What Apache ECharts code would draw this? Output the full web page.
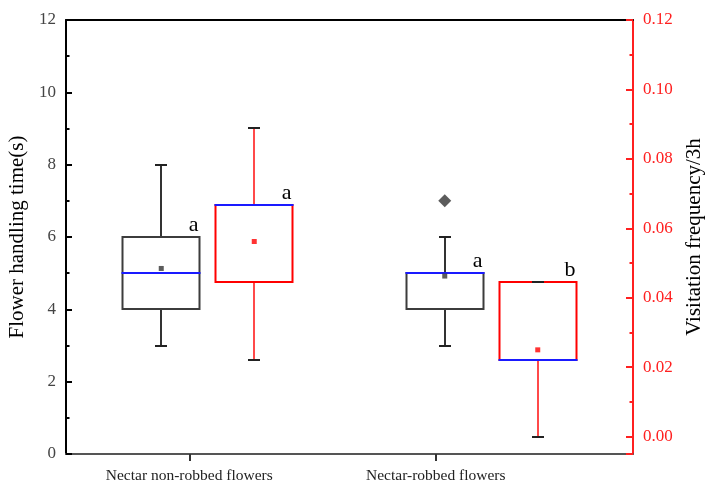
<!DOCTYPE html>
<html><head><meta charset="utf-8">
<script src="https://cdn.jsdelivr.net/npm/echarts@6/dist/echarts.min.js"></script>
<style>html,body{margin:0;padding:0;background:#fff}#c{width:705px;height:486px}</style>
</head><body><div id="c"></div>
<script>
// ---- data ----
const categories = ['Nectar non-robbed flowers', 'Nectar-robbed flowers'];
// box statistics: [min, Q1, median, Q3, max]
const handlingStats = [[3, 4, 5, 6, 8], [3, 4, 5, 5, 6]];
const handlingMeans = [5.13, 4.92];
const handlingOutliers = [[], [7]];
const handlingLetters = ['a', 'a'];
const visitStats = [[0.0222, 0.0444, 0.0667, 0.0667, 0.0889], [0, 0.0222, 0.0222, 0.0444, 0.0444]];
const visitMeans = [0.0562, 0.025];
const visitLetters = ['a', 'b'];
const leftAxisTicks = [0, 2, 4, 6, 8, 10, 12];
const rightAxisTicks = [0, 0.02, 0.04, 0.06, 0.08, 0.10, 0.12];

// ---- layout helpers ----
const SERIF = '"Liberation Serif", "Times New Roman", serif';
const BOX_HALF = 38.5;
const CAP_HALF = 6;
const OFFSET = 46.5;
const labelSlots = Array.from({length: 24}, () => '');
labelSlots[5] = categories[0];
labelSlots[15] = categories[1];

function boxRenderer(offset, boxColor, whiskerColor, letters) {
  return function (params, api) {
    const i = api.value(0);
    const y = k => Math.round(api.coord([i, api.value(k)])[1]);
    const yMin = y(1), yQ1 = y(2), yMed = y(3), yQ3 = y(4), yMax = y(5);
    const cx = Math.round(api.coord([i, api.value(3)])[0] + offset);
    const lw = 2;
    const ch = [];
    if (yMax < yQ3) ch.push({type: 'line', shape: {x1: cx, y1: yQ3, x2: cx, y2: yMax}, style: {stroke: whiskerColor, lineWidth: lw}});
    if (yMin > yQ1) ch.push({type: 'line', shape: {x1: cx, y1: yQ1, x2: cx, y2: yMin}, style: {stroke: whiskerColor, lineWidth: lw}});
    ch.push({type: 'rect', shape: {x: cx - BOX_HALF, y: yQ3, width: BOX_HALF * 2, height: yQ1 - yQ3}, style: {stroke: boxColor, fill: null, lineWidth: lw}});
    ch.push({type: 'line', shape: {x1: cx - BOX_HALF - 1, y1: yMed, x2: cx + BOX_HALF + 1, y2: yMed}, style: {stroke: '#1a1aff', lineWidth: lw}});
    ch.push({type: 'line', shape: {x1: cx - CAP_HALF, y1: yMax, x2: cx + CAP_HALF, y2: yMax}, style: {stroke: '#222', lineWidth: lw}});
    ch.push({type: 'line', shape: {x1: cx - CAP_HALF, y1: yMin, x2: cx + CAP_HALF, y2: yMin}, style: {stroke: '#222', lineWidth: lw}});
    ch.push({type: 'text', style: {text: letters[params.dataIndex], x: cx + BOX_HALF - 1, y: yQ3 - 1, align: 'right', verticalAlign: 'bottom', font: '22px ' + SERIF, fill: '#000'}});
    return {type: 'group', children: ch};
  };
}

const handlingData = handlingStats.map((s, i) => [i].concat(s));
const visitData = visitStats.map((s, i) => [i].concat(s));
const outlierData = [];
handlingOutliers.forEach((arr, i) => arr.forEach(v => outlierData.push([i, v])));

const chart = echarts.init(document.getElementById('c'), null, {renderer: 'canvas'});
chart.setOption({
  animation: false,
  backgroundColor: '#fff',
  grid: {left: 66, right: 72, top: 20, bottom: 32, containLabel: false, outerBoundsMode: 'none'},
  xAxis: [
    {type: 'category', data: categories, position: 'top', gridIndex: 0,
     axisLine: {show: true, onZero: false, lineStyle: {color: '#000', width: 2}},
     axisTick: {show: false}, axisLabel: {show: false}, splitLine: {show: false}},
    {type: 'category', data: labelSlots, boundaryGap: false, position: 'bottom', gridIndex: 0,
     axisLine: {show: true, onZero: false, lineStyle: {color: '#555', width: 2}},
     axisTick: {show: true, inside: false, length: 7, interval: (idx, v) => v !== '', lineStyle: {color: '#333', width: 2}},
     axisLabel: {show: true, interval: (idx, v) => v !== '', margin: 14, color: '#222', fontFamily: SERIF, fontSize: 15.5},
     splitLine: {show: false}}
  ],
  yAxis: [
    {type: 'value', min: 0, max: 12, interval: 2, position: 'left',
     name: 'Flower handling time(s)', nameLocation: 'middle', nameGap: 31,
     nameTextStyle: {fontFamily: SERIF, fontSize: 21, color: '#000'},
     axisLine: {show: true, onZero: false, lineStyle: {color: '#000', width: 2}},
     axisTick: {show: true, inside: true, length: 6, lineStyle: {color: '#000', width: 2}},
     minorTick: {show: true, splitNumber: 2, length: 3.5, lineStyle: {color: '#000', width: 2}},
     axisLabel: {margin: 10, color: '#444', fontFamily: SERIF, fontSize: 17},
     splitLine: {show: false}},
    {type: 'value', min: -0.005, max: 0.12, splitNumber: 6, position: 'right',
     name: 'Visitation frequency/3h', nameLocation: 'middle', nameGap: 51,
     nameTextStyle: {fontFamily: SERIF, fontSize: 21, color: '#000'},
     axisLine: {show: true, onZero: false, lineStyle: {color: '#ff2020', width: 2}},
     axisTick: {show: true, inside: true, length: 7, lineStyle: {color: '#ff2020', width: 2}},
     minorTick: {show: true, splitNumber: 2, length: 3.5, lineStyle: {color: '#ff2020', width: 2}},
     axisLabel: {margin: 10, color: '#ff2020', fontFamily: SERIF, fontSize: 17,
       formatter: v => (v < -1e-9 ? '' : v.toFixed(2))},
     splitLine: {show: false}}
  ],
  series: [
    {type: 'custom', xAxisIndex: 0, yAxisIndex: 0, data: handlingData,
     encode: {x: 0, y: [1, 2, 3, 4, 5]},
     renderItem: boxRenderer(-OFFSET, '#3c3c3c', '#333', handlingLetters), z: 3},
    {type: 'custom', xAxisIndex: 0, yAxisIndex: 1, data: visitData,
     encode: {x: 0, y: [1, 2, 3, 4, 5]},
     renderItem: boxRenderer(OFFSET, '#ff0000', '#ff4a4a', visitLetters), z: 3},
    {type: 'scatter', xAxisIndex: 0, yAxisIndex: 0, data: handlingMeans.map((v, i) => [i, v]),
     symbol: 'rect', symbolSize: 5, symbolOffset: [-OFFSET, 0], itemStyle: {color: '#333'}, z: 5},
    {type: 'scatter', xAxisIndex: 0, yAxisIndex: 1, data: visitMeans.map((v, i) => [i, v]),
     symbol: 'rect', symbolSize: 5, symbolOffset: [OFFSET, 0], itemStyle: {color: '#ff0000'}, z: 5},
    {type: 'scatter', xAxisIndex: 0, yAxisIndex: 0, data: outlierData,
     symbol: 'diamond', symbolSize: [13, 13], symbolOffset: [-OFFSET, 0], itemStyle: {color: '#333'}, z: 5}
  ]
});
</script></body></html>
